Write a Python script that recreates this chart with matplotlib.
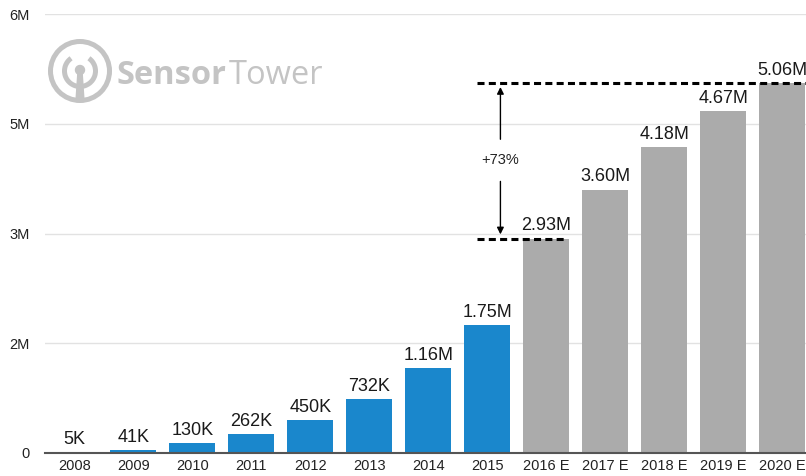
import matplotlib.pyplot as plt
import matplotlib.patches as mpatches
import numpy as np

plt.rcParams['font.family'] = ['Liberation Sans', 'DejaVu Sans']

years = ['2008', '2009', '2010', '2011', '2012', '2013', '2014', '2015',
         '2016 E', '2017 E', '2018 E', '2019 E', '2020 E']
values = [0.005, 0.041, 0.130, 0.262, 0.450, 0.732, 1.16, 1.75,
          2.93, 3.60, 4.18, 4.67, 5.06]
labels = ['5K', '41K', '130K', '262K', '450K', '732K', '1.16M', '1.75M',
          '2.93M', '3.60M', '4.18M', '4.67M', '5.06M']
estimate = [False] * 8 + [True] * 5
y_ticks = [0, 1.5, 3, 4.5, 6]
y_tick_labels = ['0', '2M', '3M', '5M', '6M']

blue = '#1a87cc'
grey = '#ababab'

fig = plt.figure(figsize=(8.06, 4.76), dpi=100)
ax = fig.add_axes([45 / 806, 23 / 476, 761 / 806, 439 / 476])

x = np.arange(len(years))
colors = [grey if e else blue for e in estimate]
bars = ax.bar(x, values, width=0.78, color=colors, zorder=2)

for rect, lab in zip(bars, labels):
    ax.annotate(lab, (rect.get_x() + rect.get_width() / 2, rect.get_height()),
                xytext=(0, 3), textcoords='offset points',
                ha='center', va='bottom', fontsize=13, color='#1a1a1a')

ax.set_xlim(-0.5, 12.4)
ax.set_ylim(0, 6)
ax.set_xticks(x)
ax.set_xticklabels(years, fontsize=10.5, color='#222222')
ax.set_yticks(y_ticks)
ax.set_yticklabels(y_tick_labels, fontsize=10.5, color='#222222')
ax.tick_params(axis='x', length=0, pad=4)
ax.tick_params(axis='y', length=0, pad=11)
ax.yaxis.grid(True, color='#e2e2e2', linewidth=1, zorder=0)
ax.set_axisbelow(True)
for side in ['top', 'right', 'left']:
    ax.spines[side].set_visible(False)
ax.spines['bottom'].set_color('#555555')
ax.spines['bottom'].set_linewidth(1.5)
ax.spines['bottom'].set_zorder(3)

# growth bracket 2016 E -> 2020 E
low, high = values[8], values[12]
ax.plot([6.83, 12.4], [high, high], color='black', lw=2.2,
        dashes=(2.3, 1.4), zorder=4, clip_on=False)
ax.plot([6.83, 8.34], [low, low], color='black', lw=2.2,
        dashes=(2.3, 1.4), zorder=4)
ax_x = 7.22
mid = 4.0
ax.annotate('', xy=(ax_x, high - 0.02), xytext=(ax_x, mid + 0.25),
            arrowprops=dict(arrowstyle='-|>', color='black', lw=1,
                            mutation_scale=10))
ax.annotate('', xy=(ax_x, low + 0.02), xytext=(ax_x, mid - 0.25),
            arrowprops=dict(arrowstyle='-|>', color='black', lw=1,
                            mutation_scale=10))
pct = (high / low - 1) * 100
ax.text(ax_x, mid, '+{:.0f}%'.format(pct), ha='center', va='center',
        fontsize=10.5, color='#222222')

# watermark logo
lg = fig.add_axes([0, 0, 1, 1], zorder=5)
lg.set_xlim(0, 806)
lg.set_ylim(476, 0)
lg.axis('off')
lg.patch.set_alpha(0)
logo_c = '#c4c4c4'
cx, cy = 80, 71
lg.add_patch(mpatches.Circle((cx, cy), 29.5, fill=False, ec=logo_c, lw=3.6))
lg.add_patch(mpatches.Arc((cx, cy), 31, 31, theta1=-55, theta2=235,
                          ec=logo_c, lw=3.6))
lg.add_patch(mpatches.Circle((cx, cy - 1), 4.5, color=logo_c))
lg.add_patch(mpatches.Polygon([(cx - 2, cy), (cx + 2, cy), (cx + 4, cy + 30),
                               (cx - 4, cy + 30)], closed=True, color=logo_c))
t1 = lg.text(117, 84, 'Sensor', fontsize=23.5, fontweight='bold',
             family='Open Sans', color=logo_c, va='baseline')
lg.annotate('Tower', xy=(1, 0), xycoords=t1, va='bottom', ha='left',
            fontsize=23.5, family='Open Sans', color=logo_c,
            xytext=(1, 0), textcoords='offset points')

fig.savefig('out.png', dpi=100)
